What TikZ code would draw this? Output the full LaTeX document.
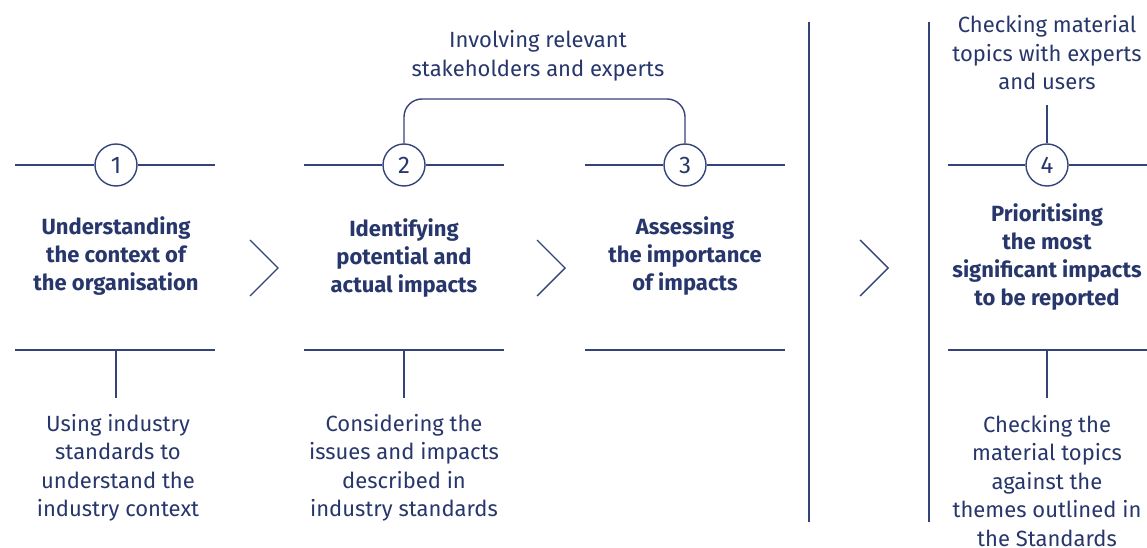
\documentclass[tikz,border=0pt]{standalone}
\usepackage{fontspec}
\setmainfont{Fira Sans}
\definecolor{navy}{HTML}{27366B}
\definecolor{rule}{HTML}{34437A}
\begin{document}
\begin{tikzpicture}[x=1pt,y=-1pt,
  ln/.style={draw=rule,line width=1.4pt},
  num/.style={circle,draw=rule,line width=1.4pt,minimum size=42pt,inner sep=0pt,
    text=navy,font=\fontsize{24}{26}\selectfont\addfontfeatures{}},
  title/.style={align=center,text=navy,font=\fontsize{22}{28}\selectfont\bfseries,inner sep=0pt},
  note/.style={align=center,text=navy,font=\fontsize{22}{28.5}\selectfont,inner sep=0pt},
  chev/.style={draw=rule,line width=1.4pt,line join=miter}]
\useasboundingbox (0,0) rectangle (1147,548);

% step circles
\node[num] (c1) at (116,165) {1};
\node[num] (c2) at (404,165) {2};
\node[num] (c3) at (685,165) {3};
\node[num] (c4) at (1047,165) {4};

% horizontal rules through the circles
\coordinate (a1l) at (15,165);  \coordinate (a1r) at (215,165);
\coordinate (a2l) at (304,165); \coordinate (a2r) at (504,165);
\coordinate (a3l) at (585,165); \coordinate (a3r) at (785,165);
\coordinate (a4l) at (948,165); \coordinate (a4r) at (1147,165);
\draw[ln] (a1l) -- (c1.west) (c1.east) -- (a1r);
\draw[ln] (a2l) -- (c2.west) (c2.east) -- (a2r);
\draw[ln] (a3l) -- (c3.west) (c3.east) -- (a3r);
\draw[ln] (a4l) -- (c4.west) (c4.east) -- (a4r);

% lower rules
\coordinate (b1l) at (15,350);  \coordinate (b1r) at (215,350);
\coordinate (b2l) at (304,350); \coordinate (b2r) at (504,350);
\coordinate (b3l) at (585,350); \coordinate (b3r) at (785,350);
\coordinate (b4l) at (948,350); \coordinate (b4r) at (1147,350);
\draw[ln] (b1l) -- (b1r);
\draw[ln] (b2l) -- (b2r);
\draw[ln] (b3l) -- (b3r);
\draw[ln] (b4l) -- (b4r);

% step titles
\node[title] (t1) at (116,256) {Understanding\\the context of\\the organisation};
\node[title] (t2) at (404,258) {Identifying\\potential and\\actual impacts};
\node[title] (t3) at (685,256) {Assessing\\the importance\\of impacts};
\node[title] (t4) at (1047,257) {Prioritising\\the most\\significant impacts\\to be reported};

% notes
\node[note] (s23) at (538,56) {Involving relevant\\stakeholders and experts};
\node[note] (n4t) at (1047,53) {Checking material\\topics with experts\\and users};
\node[note] (n1) at (118,468) {Using industry\\standards to\\understand the\\industry context};
\node[note] (n2) at (404,468) {Considering the\\issues and impacts\\described in\\industry standards};
\node[note] (n4) at (1047,481) {Checking the\\material topics\\against the\\themes outlined in\\the Standards};

% ticks from the lower rules to the notes
\coordinate (k1) at (116,350); \coordinate (k1e) at (116,398);
\coordinate (k2) at (404,350); \coordinate (k2e) at (404,398);
\coordinate (k4) at (1047,350); \coordinate (k4e) at (1047,398);
\draw[ln] (k1) -- (k1e);
\draw[ln] (k2) -- (k2e);
\draw[ln] (k4) -- (k4e);
\coordinate (k4t) at (1047,105);
\draw[ln] (k4t) -- (c4.north);

% bracket joining steps 2 and 3
\draw[ln,rounded corners=18pt] (c2.north) -- (404,99) -- (685,99) -- (c3.north);

% chevrons
\coordinate (h1) at (250,240); \coordinate (h1m) at (278,268); \coordinate (h1e) at (250,296);
\coordinate (h2) at (537,240); \coordinate (h2m) at (565,268); \coordinate (h2e) at (537,296);
\coordinate (h3) at (860,240); \coordinate (h3m) at (888,268); \coordinate (h3e) at (860,296);
\draw[chev] (h1) -- (h1m) -- (h1e);
\draw[chev] (h2) -- (h2m) -- (h2e);
\draw[chev] (h3) -- (h3m) -- (h3e);

% vertical dividers
\coordinate (v1) at (809,22); \coordinate (v1e) at (809,522);
\coordinate (v2) at (929,22); \coordinate (v2e) at (929,522);
\draw[ln] (v1) -- (v1e);
\draw[ln] (v2) -- (v2e);
\end{tikzpicture}
\end{document}
